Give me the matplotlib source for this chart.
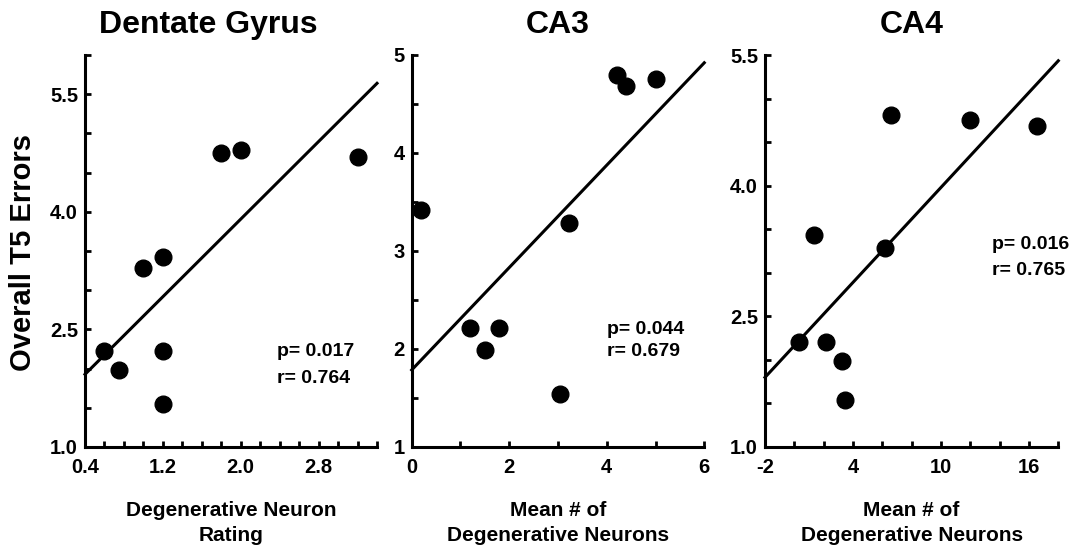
import matplotlib
matplotlib.use("Agg")
import matplotlib.pyplot as plt
from matplotlib.ticker import FixedLocator, FormatStrFormatter
import numpy as np

plt.rcParams['font.family'] = ['Liberation Sans', 'DejaVu Sans']
plt.rcParams['font.weight'] = 'bold'

# Dentate Gyrus
dg_x = [0.6, 0.75, 1.0, 1.2, 1.2, 1.2, 1.8, 2.0, 3.2]
dg_y = [2.22, 1.98, 3.28, 3.42, 2.22, 1.55, 4.75, 4.79, 4.70]
# CA3
ca3_x = [0.2, 1.2, 1.5, 1.8, 3.04, 3.22, 4.2, 4.4, 5.0]
ca3_y = [3.42, 2.21, 1.99, 2.21, 1.545, 3.29, 4.80, 4.68, 4.76]
# CA4
ca4_x = [0.3, 1.33, 2.17, 3.22, 3.47, 6.18, 6.6, 12.0, 16.58]
ca4_y = [2.20, 3.43, 2.20, 1.99, 1.545, 3.28, 4.81, 4.75, 4.68]

titles = ['Dentate Gyrus', 'CA3', 'CA4']
xlabels = ['Degenerative Neuron\nRating', 'Mean # of\nDegenerative Neurons',
           'Mean # of\nDegenerative Neurons']
stats_p = ['p= 0.017', 'p= 0.044', 'p= 0.016']
stats_r = ['r= 0.764', 'r= 0.679', 'r= 0.765']

fig = plt.figure(figsize=(10.84, 5.5), dpi=100)

panels = [
    dict(x=dg_x, y=dg_y, pos=[0.0784, 0.1873, 0.2694, 0.7127],
         xlim=(0.4, 3.4), ylim=(1.0, 6.0), xmaj=0.8, xmin=0.2, ymaj=1.5, ymin=0.5,
         xfmt='%.1f', yfmt='%.1f', tx=0.421, sx=0.658, sy=(0.232, 0.1625)),
    dict(x=ca3_x, y=ca3_y, pos=[0.3798, 0.1873, 0.2699, 0.7127],
         xlim=(0, 6), ylim=(1, 5), xmaj=2, xmin=1, ymaj=1, ymin=0.5,
         xfmt='%d', yfmt='%d', tx=0.5, sx=0.666, sy=(0.288, 0.232)),
    dict(x=ca4_x, y=ca4_y, pos=[0.7057, 0.1873, 0.2706, 0.7127],
         xlim=(-2, 18), ylim=(1.0, 5.5), xmaj=6, xmin=2, ymaj=1.5, ymin=0.5,
         xfmt='%d', yfmt='%.1f', tx=0.5, sx=0.773, sy=(0.504, 0.439)),
]


def steps(lo, hi, step):
    return np.arange(lo, hi + step * 0.01, step)


for i, p in enumerate(panels):
    ax = fig.add_axes(p['pos'])
    ax.plot(p['x'], p['y'], 'o', color='black', markersize=12, clip_on=False, zorder=3)

    # least-squares fit across the x range
    k, b = np.polyfit(p['x'], p['y'], 1)
    xx = np.array(p['xlim'], dtype=float)
    ax.plot(xx, k * xx + b, color='black', linewidth=2.2, clip_on=False)

    ax.set_xlim(*p['xlim'])
    ax.set_ylim(*p['ylim'])
    ax.xaxis.set_major_locator(FixedLocator(steps(p['xlim'][0], p['xlim'][1], p['xmaj'])))
    ax.xaxis.set_minor_locator(FixedLocator(steps(p['xlim'][0], p['xlim'][1], p['xmin'])))
    ax.yaxis.set_major_locator(FixedLocator(steps(p['ylim'][0], p['ylim'][1], p['ymaj'])))
    ax.yaxis.set_minor_locator(FixedLocator(steps(p['ylim'][0], p['ylim'][1], p['ymin'])))
    ax.xaxis.set_major_formatter(FormatStrFormatter(p['xfmt']))
    ax.yaxis.set_major_formatter(FormatStrFormatter(p['yfmt']))

    for s in ['top', 'right']:
        ax.spines[s].set_visible(False)
    for s in ['left', 'bottom']:
        ax.spines[s].set_linewidth(2.2)
    ax.tick_params(which='both', direction='in', length=4, width=2, labelsize=14.5)
    ax.tick_params(axis='x', which='major', pad=8)
    ax.tick_params(axis='y', which='major', pad=5)

    ax.set_xlabel(xlabels[i], fontsize=15, fontweight='bold', labelpad=17,
                  linespacing=1.4)
    ax.text(p['tx'], 1.055, titles[i], transform=ax.transAxes, ha='center',
            va='baseline', fontsize=23, fontweight='bold')
    ax.text(p['sx'], p['sy'][0], stats_p[i], transform=ax.transAxes,
            ha='left', va='baseline', fontsize=14, fontweight='bold')
    ax.text(p['sx'], p['sy'][1], stats_r[i], transform=ax.transAxes,
            ha='left', va='baseline', fontsize=14, fontweight='bold')

fig.text(0.021, 0.541, 'Overall T5 Errors', rotation=90, ha='center', va='center',
         fontsize=21, fontweight='bold')

plt.savefig('out.png', dpi=100)
